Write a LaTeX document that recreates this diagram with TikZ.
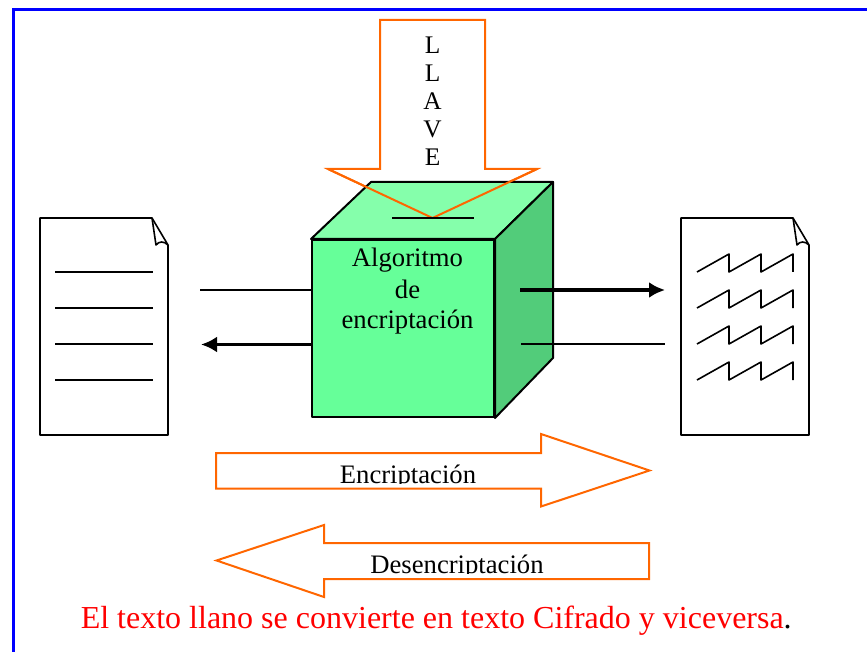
\documentclass[tikz,border=0pt]{standalone}
\usepackage{fontspec}
\setmainfont{Liberation Serif}
\usetikzlibrary{arrows.meta, positioning}
\definecolor{framecol}{rgb}{0.0, 0.0, 1.0}
\definecolor{arrowcol}{rgb}{1.0, 0.4, 0.0}
\definecolor{cubefront}{rgb}{0.4, 1.0, 0.6}
\definecolor{cubetop}{rgb}{0.52, 1.0, 0.67}
\definecolor{cubeside}{rgb}{0.32, 0.8, 0.48}

\begin{document}
\begin{tikzpicture}[%
    x = 0.75pt,
    y = -0.75pt,
    line width = 1.2pt,
    >= { Latex[length=12pt, width=12pt] },
    page/.style = {draw, line join = round},
    hollow/.style = {draw = arrowcol, line width = 1.5pt, line join = miter},
    cube/.style = {draw, line join = round, line width = 1.5pt},
    stub/.style = {line width = 1.1pt},
    thick stub/.style = {->, line width = 2.4pt},
    label/.style = {inner sep = 0pt, font = \fontsize{20}{24}\selectfont, text = black}
  ]
\useasboundingbox (0,0) rectangle (867,652);

% frame
\draw[framecol, line width = 2.5pt] (13.3,652) -- (13.3,9.5) -- (867,9.5);

% key arrow
\draw[hollow] (380,20) -- (485,20) -- (485,169) -- (537,169) -- (432.5,218)
  -- (328,169) -- (380,169) -- cycle;

% cube
\node[cube, fill = cubefront, minimum width = 182*0.75pt, minimum height = 177*0.75pt,
  inner sep = 0pt] (front) at (403,328.5) {};
\draw[cube, fill = cubetop] (front.north west) -- (371,182) -- (553,182) -- (front.north east) -- cycle;
\draw[cube, fill = cubeside] (front.north east) -- (553,182) -- (553,358) -- (front.south east) -- cycle;
\draw[hollow] (328,169) -- (432.5,218) -- (537,169);
\coordinate (slotL) at (392,218);
\coordinate (slotR) at (474,218);
\draw (slotL) -- (slotR);

\node[label, anchor = base] (algo) at (407.5,266.5) {Algoritmo};
\node[label, anchor = base] (de) at (407.5,298) {de};
\node[label, anchor = base] (enc) at (407.5,328) {encriptación};

\foreach \ch [count=\i] in {L,L,A,V,E}
  \node[label, font = \fontsize{19}{22}\selectfont] (key\i) at (432.5,17+28*\i) {\ch};

% left page
\coordinate (pageA) at (40,218);
\draw[page] (pageA) -- (152,218) -- (168,245) -- (168,435) -- (40,435) -- cycle;
\draw[page] (152,218) -- (156,245) .. controls (159,241) and (164,241) .. (168,245);
\foreach \y [count=\i] in {272,308,344,380} {
  \coordinate (lineL\i) at (55,\y);
  \coordinate (lineR\i) at (153,\y);
  \draw (lineL\i) -- (lineR\i);
}

% right page
\coordinate (pageB) at (681,218);
\draw[page] (pageB) -- (793,218) -- (809,245) -- (809,435) -- (681,435) -- cycle;
\draw[page] (793,218) -- (797,245) .. controls (800,241) and (805,241) .. (809,245);
\foreach \y in {272,308,344,380}
  \draw[line join = round] (697,\y) -- (729,\y-18) -- (729,\y) -- (761,\y-18) -- (761,\y) -- (793,\y-18) -- (793,\y);

% connectors
\coordinate (inL) at (200,290);
\coordinate (outL) at (201,344.5);
\coordinate (outRa) at (520,290);
\coordinate (outRb) at (665,290);
\coordinate (inRa) at (521,344);
\coordinate (inRb) at (665,344);
\draw[stub] (inL) -- (inL -| front.west);
\draw[thick stub] (outL -| front.west) -- (outL);
\draw[thick stub] (outRa) -- (outRb);
\draw[stub] (inRa) -- (inRb);

% direction arrows
\draw[hollow] (216,453) -- (541,453) -- (541,434) -- (649.5,470.5) -- (541,506.5)
  -- (541,488.5) -- (216,488.5) -- cycle;
\draw[hollow] (216.5,560.5) -- (324,525) -- (324,543) -- (649,543) -- (649,579)
  -- (324,579) -- (324,597) -- cycle;

\begin{scope}
  \clip (300,455) rectangle (560,483.5);
  \node[label, anchor = base] (encr) at (408,483) {Encriptación};
\end{scope}
\begin{scope}
  \clip (340,545) rectangle (570,573.5);
  \node[label, anchor = base] (desc) at (457,573) {Desencriptación};
\end{scope}

% caption
\node[anchor = base west, inner sep = 0pt, font = \fontsize{24}{28}\selectfont] (note) at (80,628)
  {\textcolor{red}{El texto llano se convierte en texto Cifrado y viceversa}.};
\end{tikzpicture}
\end{document}
